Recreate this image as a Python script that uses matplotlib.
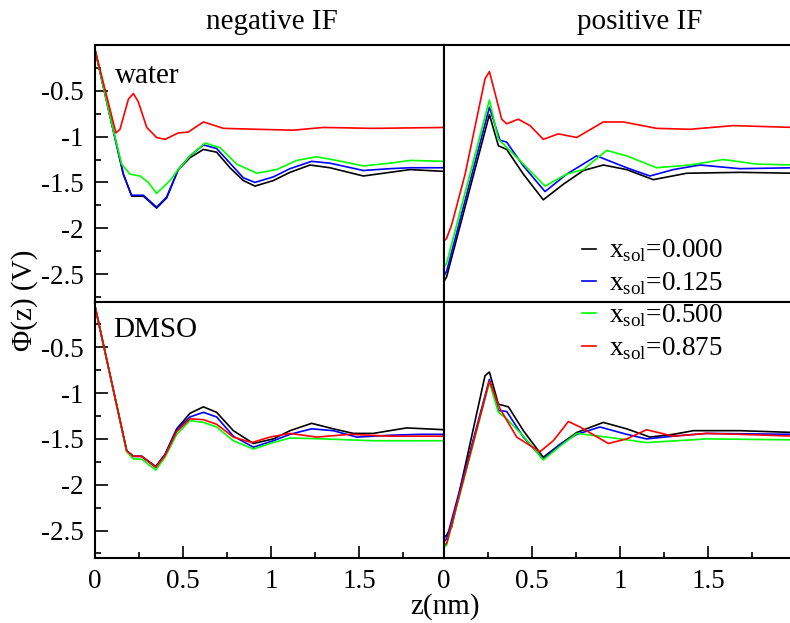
import matplotlib
matplotlib.use("Agg")
import matplotlib.pyplot as plt
from matplotlib.ticker import MultipleLocator, FixedLocator, FuncFormatter

plt.rcParams['font.family'] = ['Liberation Serif', 'DejaVu Serif']
plt.rcParams['mathtext.fontset'] = 'custom'
plt.rcParams['mathtext.rm'] = 'Liberation Serif'
plt.rcParams['axes.unicode_minus'] = False

# series labels / colours
labels = ['x$_{\\rm sol}$=0.000', 'x$_{\\rm sol}$=0.125',
          'x$_{\\rm sol}$=0.500', 'x$_{\\rm sol}$=0.875']
colors = ['black', 'blue', '#00ff00', 'red']

# water, negative IF
wn_z_000 = [0, 0.095, 0.161, 0.208, 0.275, 0.35, 0.407, 0.473, 0.54, 0.616, 0.691, 0.767, 0.843, 0.909, 1.013, 1.108, 1.222, 1.335, 1.525, 1.676, 1.79, 1.99]
wn_p_000 = [-0.05, -0.86, -1.41, -1.65, -1.65, -1.78, -1.67, -1.36, -1.23, -1.14, -1.17, -1.34, -1.48, -1.54, -1.48, -1.39, -1.31, -1.34, -1.43, -1.39, -1.36, -1.38]
wn_z_125 = [0, 0.095, 0.161, 0.208, 0.275, 0.35, 0.407, 0.473, 0.54, 0.616, 0.691, 0.767, 0.843, 0.909, 1.013, 1.108, 1.231, 1.335, 1.525, 1.676, 1.79, 1.99]
wn_p_125 = [-0.05, -0.86, -1.41, -1.64, -1.64, -1.77, -1.66, -1.36, -1.21, -1.09, -1.13, -1.29, -1.45, -1.50, -1.44, -1.35, -1.27, -1.29, -1.37, -1.35, -1.34, -1.34]
wn_z_500 = [0, 0.095, 0.151, 0.199, 0.256, 0.303, 0.35, 0.426, 0.473, 0.54, 0.625, 0.71, 0.805, 0.919, 1.032, 1.146, 1.259, 1.373, 1.525, 1.676, 1.79, 1.99]
wn_p_500 = [-0.05, -0.86, -1.30, -1.41, -1.43, -1.50, -1.62, -1.48, -1.36, -1.21, -1.07, -1.12, -1.30, -1.40, -1.36, -1.26, -1.22, -1.26, -1.32, -1.29, -1.26, -1.27]
wn_z_875 = [0, 0.119, 0.142, 0.19, 0.218, 0.246, 0.294, 0.35, 0.398, 0.473, 0.53, 0.616, 0.73, 0.919, 1.127, 1.297, 1.581, 1.99]
wn_p_875 = [-0.05, -0.96, -0.92, -0.59, -0.53, -0.62, -0.90, -1.01, -1.03, -0.96, -0.95, -0.84, -0.91, -0.92, -0.93, -0.90, -0.91, -0.90]

# water, positive IF
wp_z_000 = [0, 0.015, 0.258, 0.309, 0.356, 0.451, 0.564, 0.678, 0.792, 0.905, 1.038, 1.189, 1.379, 1.68, 1.99]
wp_p_000 = [-2.58, -2.53, -0.76, -1.10, -1.14, -1.41, -1.69, -1.52, -1.37, -1.31, -1.36, -1.47, -1.40, -1.39, -1.40]
wp_z_125 = [0, 0.015, 0.258, 0.318, 0.356, 0.451, 0.574, 0.697, 0.867, 1.038, 1.17, 1.303, 1.455, 1.68, 1.99]
wp_p_125 = [-2.52, -2.47, -0.68, -1.04, -1.06, -1.32, -1.60, -1.41, -1.21, -1.34, -1.43, -1.36, -1.31, -1.35, -1.34]
wp_z_500 = [0, 0.015, 0.258, 0.309, 0.337, 0.451, 0.574, 0.697, 0.792, 0.924, 1.038, 1.208, 1.398, 1.587, 1.777, 1.99]
wp_p_500 = [-2.43, -2.38, -0.60, -1.03, -1.08, -1.30, -1.54, -1.41, -1.36, -1.15, -1.21, -1.34, -1.31, -1.25, -1.30, -1.31]
wp_z_875 = [0, 0.015, 0.044, 0.12, 0.233, 0.258, 0.328, 0.356, 0.422, 0.489, 0.564, 0.65, 0.754, 0.905, 1.019, 1.208, 1.398, 1.644, 1.99]
wp_p_875 = [-2.14, -2.11, -1.96, -1.41, -0.37, -0.29, -0.81, -0.86, -0.81, -0.88, -1.03, -0.97, -1.01, -0.84, -0.84, -0.91, -0.92, -0.88, -0.90]

# DMSO, negative IF
dn_z_000 = [0, 0.18, 0.218, 0.265, 0.345, 0.398, 0.464, 0.54, 0.616, 0.691, 0.786, 0.9, 1.013, 1.108, 1.231, 1.354, 1.468, 1.581, 1.77, 1.99]
dn_p_000 = [-0.05, -1.63, -1.69, -1.69, -1.80, -1.67, -1.39, -1.22, -1.15, -1.21, -1.41, -1.55, -1.50, -1.41, -1.33, -1.39, -1.44, -1.44, -1.38, -1.40]
dn_z_125 = [0, 0.18, 0.218, 0.265, 0.345, 0.398, 0.464, 0.54, 0.616, 0.691, 0.786, 0.9, 1.013, 1.108, 1.231, 1.354, 1.487, 1.676, 1.85, 1.99]
dn_p_125 = [-0.05, -1.63, -1.69, -1.69, -1.81, -1.67, -1.40, -1.26, -1.21, -1.26, -1.47, -1.59, -1.52, -1.45, -1.39, -1.41, -1.48, -1.46, -1.45, -1.45]
dn_z_500 = [0, 0.18, 0.218, 0.265, 0.345, 0.398, 0.464, 0.54, 0.616, 0.691, 0.786, 0.9, 1.013, 1.108, 1.297, 1.581, 1.99]
dn_p_500 = [-0.05, -1.64, -1.72, -1.72, -1.84, -1.70, -1.45, -1.30, -1.32, -1.37, -1.52, -1.61, -1.54, -1.49, -1.50, -1.52, -1.52]
dn_z_875 = [0, 0.18, 0.218, 0.265, 0.345, 0.398, 0.464, 0.54, 0.616, 0.691, 0.786, 0.89, 0.994, 1.108, 1.259, 1.449, 1.676, 1.99]
dn_p_875 = [-0.05, -1.63, -1.69, -1.69, -1.81, -1.68, -1.42, -1.28, -1.29, -1.34, -1.48, -1.54, -1.48, -1.44, -1.48, -1.45, -1.47, -1.47]

# DMSO, positive IF
dp_z_000 = [0, 0.015, 0.044, 0.233, 0.258, 0.309, 0.366, 0.451, 0.564, 0.659, 0.754, 0.905, 1.038, 1.17, 1.303, 1.417, 1.68, 1.99]
dp_p_000 = [-2.58, -2.55, -2.46, -0.81, -0.77, -1.12, -1.15, -1.41, -1.70, -1.56, -1.43, -1.32, -1.39, -1.48, -1.45, -1.41, -1.41, -1.43]
dp_z_125 = [0, 0.015, 0.258, 0.309, 0.356, 0.451, 0.564, 0.659, 0.754, 0.886, 1.038, 1.151, 1.303, 1.492, 1.99]
dp_p_125 = [-2.62, -2.59, -0.85, -1.19, -1.20, -1.48, -1.72, -1.56, -1.45, -1.37, -1.45, -1.50, -1.47, -1.44, -1.45]
dp_z_500 = [0, 0.015, 0.258, 0.309, 0.356, 0.451, 0.564, 0.659, 0.754, 0.924, 1.151, 1.492, 1.99]
dp_p_500 = [-2.68, -2.66, -0.88, -1.21, -1.28, -1.47, -1.73, -1.58, -1.44, -1.48, -1.54, -1.50, -1.51]
dp_z_875 = [0, 0.015, 0.258, 0.318, 0.413, 0.545, 0.621, 0.707, 0.773, 0.934, 1.038, 1.151, 1.303, 1.492, 1.68, 1.99]
dp_p_875 = [-2.66, -2.64, -0.87, -1.17, -1.48, -1.64, -1.52, -1.31, -1.37, -1.55, -1.50, -1.40, -1.47, -1.44, -1.45, -1.47]

panels = [
    [(wn_z_000, wn_p_000), (wn_z_125, wn_p_125), (wn_z_500, wn_p_500), (wn_z_875, wn_p_875)],
    [(wp_z_000, wp_p_000), (wp_z_125, wp_p_125), (wp_z_500, wp_p_500), (wp_z_875, wp_p_875)],
    [(dn_z_000, dn_p_000), (dn_z_125, dn_p_125), (dn_z_500, dn_p_500), (dn_z_875, dn_p_875)],
    [(dp_z_000, dp_p_000), (dp_z_125, dp_p_125), (dp_z_500, dp_p_500), (dp_z_875, dp_p_875)],
]

W, H = 790, 623
fig = plt.figure(figsize=(W / 100, H / 100), dpi=100)

# axes boxes in pixels: left, top, right, bottom
boxes = [(95, 45, 444, 301.5), (444, 45, 793, 301.5),
         (95, 301.5, 444, 558), (444, 301.5, 793, 558)]
axes = []
for (l, t, r, b) in boxes:
    ax = fig.add_axes([l / W, 1 - b / H, (r - l) / W, (b - t) / H])
    axes.append(ax)

fmt = FuncFormatter(lambda v, p: '%g' % v)
for i, ax in enumerate(axes):
    for (z, phi), c, lab in zip(panels[i], colors, labels):
        ax.plot(z, phi, color=c, lw=1.2, label=lab)
    ax.set_xlim(0, 1.983)
    ax.set_ylim(-2.8, 0)
    for s in ax.spines.values():
        s.set_linewidth(1.5)
    ax.yaxis.set_major_locator(FixedLocator([-2.5, -2, -1.5, -1, -0.5]))
    ax.yaxis.set_minor_locator(FixedLocator([-2.75, -2.25, -1.75, -1.25, -0.75, -0.25]))
    ax.xaxis.set_major_locator(MultipleLocator(0.5))
    ax.xaxis.set_minor_locator(MultipleLocator(0.25))
    ax.xaxis.set_major_formatter(fmt)
    ax.yaxis.set_major_formatter(fmt)
    ax.tick_params(which='both', direction='in', top=False, right=False,
                   labelsize=19.5, width=1.2)
    ax.tick_params(which='major', length=9, pad=8)
    ax.tick_params(which='minor', length=4.5)
    if i % 2 == 1:
        ax.tick_params(which='both', left=False, labelleft=False)
    if i < 2:
        ax.tick_params(which='both', bottom=False, labelbottom=False)

axes[0].text(0.058, 0.88, 'water', transform=axes[0].transAxes, fontsize=21, va='center')
axes[2].text(0.052, 0.89, 'DMSO', transform=axes[2].transAxes, fontsize=21, va='center')

fig.text(272 / W, 1 - 22 / H, 'negative IF', fontsize=21, ha='center', va='center')
fig.text(640 / W, 1 - 22 / H, 'positive IF', fontsize=21, ha='center', va='center')
fig.text(25 / W, 1 - 300 / H, 'Φ(z) (V)', fontsize=21, rotation=90, ha='center', va='center')
fig.text(445 / W, 1 - 607 / H, 'z(nm)', fontsize=21, ha='center', va='center')

h, l = axes[1].get_legend_handles_labels()
fig.legend(h, l, loc='upper left', bbox_to_anchor=(582 / W, 1 - 238 / H),
           frameon=False, fontsize=19.5, handlelength=0.5, handletextpad=0.5,
           labelspacing=0.22, borderpad=0, borderaxespad=0)

fig.savefig('out.png', dpi=100)
